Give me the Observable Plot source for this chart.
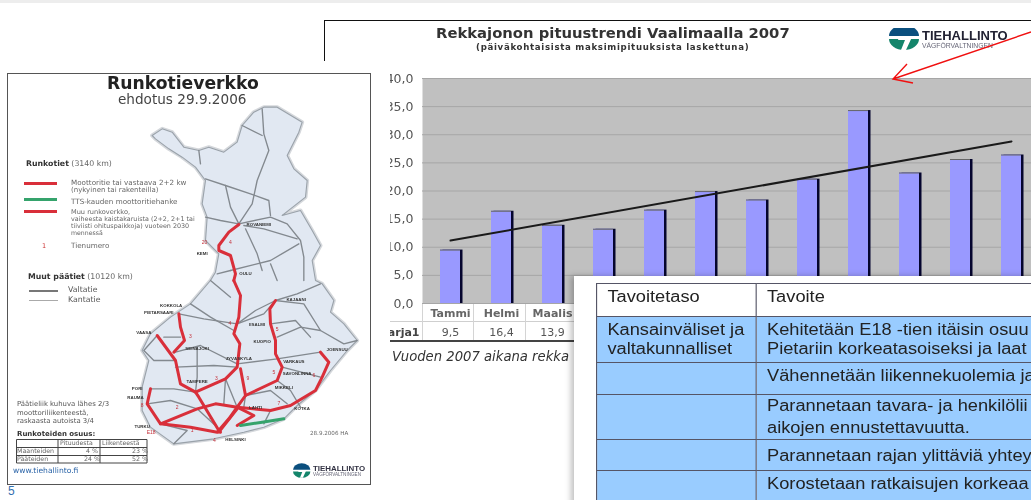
<!DOCTYPE html>
<html><head><meta charset="utf-8">
<script src="https://cdn.jsdelivr.net/npm/d3@7"></script>
<script src="https://cdn.jsdelivr.net/npm/@observablehq/plot@0.6"></script>
<style>
html,body{margin:0;padding:0;background:#fff;width:1031px;height:500px;overflow:hidden;font-family:"Liberation Sans",Arial,sans-serif}
.abs{position:absolute;white-space:nowrap}
#topband{position:absolute;left:0;top:0;width:1031px;height:3px;background:#ededed}
#chartbox{position:absolute;left:0;top:0;width:1031px;height:500px;clip-path:inset(0 0 0 390px);filter:blur(.45px)}
#chartbox svg,#mapbox svg{position:absolute;left:0;top:0;overflow:visible;background:none}
#head{position:absolute;left:324px;top:20px;width:707px;height:40px;border-top:1px solid #111;border-left:1px solid #111}
#mappanel{position:absolute;left:7px;top:73px;width:362px;height:410px;border:1px solid #555;background:#fff}
#mapbox{position:absolute;left:0;top:0;width:1031px;height:500px;filter:blur(.65px)}
#tablepanel{position:absolute;left:574px;top:276px;width:470px;height:240px;background:#fff;box-shadow:-3px 0 6px rgba(0,0,0,.25)}
table{position:absolute;left:596px;top:283px;border-collapse:collapse;font-size:16px;color:#222;table-layout:fixed;width:460px;filter:blur(.35px);transform:scaleX(1.14);transform-origin:0 0}
td{border:1px solid #556;padding:3px 9px;line-height:19px;vertical-align:top;white-space:nowrap;overflow:hidden}
td.b{background:#99ccff}
</style></head><body>
<div id="topband"></div>
<div id="head"></div>
<div id="chartbox"></div>
<div id="mappanel"></div>
<div id="mapbox"></div>
<div id="tablepanel"></div>
<table>
<colgroup><col style="width:140px"><col style="width:320px"></colgroup>
<tr style="height:33px"><td>Tavoitetaso</td><td>Tavoite</td></tr>
<tr style="height:46px"><td class="b">Kansainväliset ja<br>valtakunnalliset</td><td class="b">Kehitetään E18 -tien itäisin osuu<br>Pietariin korkeatasoiseksi ja laat</td></tr>
<tr style="height:32px"><td class="b"></td><td class="b">Vähennetään liikennekuolemia ja</td></tr>
<tr style="height:45px"><td class="b"></td><td class="b" style="padding-top:0;padding-bottom:0;line-height:22px">Parannetaan tavara- ja henkilölii<br>aikojen ennustettavuutta.</td></tr>
<tr style="height:31px"><td class="b"></td><td class="b" style="padding-top:6px;padding-bottom:0">Parannetaan rajan ylittäviä yhtey</td></tr>
<tr style="height:45px"><td class="b"></td><td class="b">Korostetaan ratkaisujen korkeaa</td></tr>
</table>
<script>
// ---- truck-queue chart data ----
const months = ["Tammi","Helmi","Maalis","Huhti","Touko","Kesä","Heinä","Elo","Syys","Loka","Marras","Joulu"];
const queue = [9.5,16.4,13.9,13.2,16.6,19.9,18.4,22.1,34.3,23.2,25.6,26.4];
const shownMonths = ["Tammi","Helmi","Maalis"];
const shownValues = ["9,5","16,4","13,9"];
const trendMonths = ["Tammi","Joulu"];
const trendValues = [11.2,28.8];
const yTicks = [0,5,10,15,20,25,30,35,40];
const rows = months.map((m,i)=>({m,v:queue[i]}));
const trend = trendMonths.map((m,i)=>({m,v:trendValues[i]}));
const fmt = d=>d.toFixed(1).replace(".",",");

const chart = Plot.plot({
  width:1031,height:500,marginLeft:422,marginRight:-8,marginTop:78,marginBottom:197,
  style:{background:"none",fontFamily:"DejaVu Sans"},
  x:{domain:months,paddingInner:.61,paddingOuter:.305,axis:null},
  y:{domain:[0,40],axis:null},
  marks:[
    Plot.frame({fill:"#c0c0c0"}),
    Plot.ruleY(yTicks,{stroke:"#a6a6a6",strokeWidth:1}),
    Plot.barY(rows,{x:"m",y:"v",fill:"#05052e",dx:2.5}),
    Plot.barY(rows,{x:"m",y:"v",fill:"#9999ff"}),
    Plot.tickY(rows,{x:"m",y:"v",stroke:"#666",strokeWidth:1}),
    Plot.line(trend,{x:"m",y:"v",stroke:"#1a1a1a",strokeWidth:2}),
    Plot.axisY({ticks:yTicks,tickFormat:fmt,tickSize:0,tickPadding:9,fontSize:12.5,fill:"#555",marginLeft:422,label:null,anchor:"left"}),
    Plot.text(shownMonths,{x:d=>d,y:()=>0,dy:10,text:d=>d,fontSize:11,fill:"#666",fontWeight:600}),
    Plot.text(shownMonths,{x:d=>d,y:()=>0,dy:29,text:(d,i)=>shownValues[i],fontSize:11,fill:"#555"}),
    Plot.text(["Sarja1"],{x:()=>"Tammi",y:()=>0,dy:29,dx:-31,text:d=>d,textAnchor:"end",fontSize:11,fill:"#444",fontWeight:600})
  ]
});
const cb = document.getElementById("chartbox");
cb.appendChild(chart);
const line=(x,y,w,h,c)=>`<div class="abs" style="left:${x}px;top:${y}px;width:${w}px;height:${h}px;background:${c}"></div>`;
const F="'Liberation Sans'", D="'DejaVu Sans'";
// text placed by its left edge and vertical centre
const txt=(x,yc,s,st)=>`<div class="abs" style="left:${x}px;top:${yc}px;transform:translateY(-50%);line-height:1;${st}">${s}</div>`;
cb.insertAdjacentHTML("beforeend",
  line(422,321,155,1,"#cfcfcf")+line(390,321,32,1,"#cfcfcf")+line(390,340,190,2,"#444")+
  line(422,304,1,36,"#d4d4d4")+line(473,304,1,36,"#d4d4d4")+line(525,304,1,36,"#d4d4d4")+
  txt(392,357,"Vuoden 2007 aikana rekka",`font:italic 13.2px ${D};line-height:1;color:#333`));

// ---- collage heading ----
function logo(x,y,s){return `<svg class="abs" style="left:${x}px;top:${y}px" width="${30*s}" height="${22*s}" viewBox="0 0 30 22">
<path d="M0 8A15 11 0 0 1 30 8Z" fill="#0b4f7e"/><path d="M0 11H30A15 11 0 0 1 0 11Z" fill="#14856b"/>
<path d="M10 9H23L17 22H12L16 12H9Z" fill="#fff"/></svg>`;}
document.body.insertAdjacentHTML("beforeend",
  txt(436,33,"Rekkajonon pituustrendi Vaalimaalla 2007",`font:bold 14.8px ${D};line-height:1;color:#333;filter:blur(.4px)`)+
  txt(476,47,"(päiväkohtaisista maksimipituuksista laskettuna)",`font:bold 8.6px ${D};line-height:1;letter-spacing:.7px;color:#333;filter:blur(.4px)`)+
  logo(889,28,1)+
  txt(922,35,"TIEHALLINTO",`font:bold 13px ${F};line-height:1;color:#223;filter:blur(.3px)`)+
  txt(922,46,"VÄGFÖRVALTNINGEN",`font:6.8px ${F};line-height:1;color:#667;filter:blur(.3px)`)+
  `<svg class="abs" style="left:0;top:0" width="1031" height="500"><path d="M1031 32L893 79M907 64L893 79L913 83" fill="none" stroke="#f01010" stroke-width="1.4"/></svg>`+
  txt(8,491,"5",`font:12px ${F};line-height:1;color:#336fb0`));

// ---- road map (in map units) ----
const north = pts=>pts.map(([x,y])=>[x+390,y+120]);
const south = pts=>pts.map(([x,y])=>[x+390,y+660]);
const outlineNorthA = [[65,105],[95,85],[125,95],[160,140],[205,150],[235,140],[280,155],[320,125],[335,75],[370,35],[400,20],[440,20],[515,65],[505,95],[470,165],[490,205],[530,240],[525,290],[480,325],[455,345],[510,330],[545,390],[570,435],[545,480],[555,540]];
const outlineSouth = [[575,10],[610,60],[600,95],[640,130],[680,180],[650,210],[600,270],[555,330],[500,375],[460,415],[400,440],[340,455],[250,475],[130,490],[60,440],[35,390],[35,320],[55,240],[35,210],[60,160],[120,110],[180,70],[240,0]];
const outlineNorthB = [[255,515],[265,460],[225,420],[230,350],[215,310],[225,240],[195,200],[155,170],[115,145],[75,115],[65,105]];
const outline = [...north(outlineNorthA),...south(outlineSouth),...north(outlineNorthB)];
const grayNorth = [
 [[395,25],[400,100],[415,150],[380,240],[365,310],[325,370]],
 [[335,75],[395,105]],
 [[225,235],[285,255],[360,280],[415,300],[420,345]],
 [[285,255],[300,320],[325,370]],
 [[205,150],[210,190]],
 [[325,370],[420,350],[470,370],[510,420],[520,470],[520,540]],
 [[340,375],[400,385],[500,415]],
 [[345,385],[380,460],[395,510]],
 [[300,510],[420,480],[505,430]],
 [[420,490],[440,540]],
 [[225,350],[270,360],[325,370]],
 [[260,520],[300,510]]
];
const graySouth = [
 [[145,100],[220,115],[320,130],[400,100],[435,60]],[[180,70],[240,110],[310,150]],[[240,0],[300,50]],
 [[435,60],[520,70],[570,150],[640,190],[680,180]],[[440,170],[510,140],[570,150]],
 [[80,165],[40,210],[70,240],[135,240]],[[135,215],[210,195],[320,250],[440,235],[570,215]],
 [[200,200],[200,290],[195,335]],[[135,260],[250,255],[320,260]],[[455,260],[570,290]],
 [[60,325],[130,325],[195,335]],[[345,345],[420,330],[470,370]],[[285,295],[320,380]],
 [[50,370],[120,360],[200,385],[260,440]],[[440,300],[480,330],[510,380]],[[435,60],[375,90],[320,130]],
 [[570,10],[500,40],[435,60]],[[420,130],[495,120],[540,170]],[[285,295],[280,370]],
 [[130,490],[170,450],[90,430]],[[100,170],[150,170]],[[345,345],[340,380]],[[420,390],[400,430]]
];
const redNorth = [[325,372],[295,395],[265,435],[265,450],[300,465],[315,520],[310,540]];
const redSouth = [
 [[310,0],[330,45],[325,110],[310,160],[328,190],[320,260],[285,295],[195,335],[150,310],[135,240],[80,165]],
 [[145,100],[150,140],[162,180],[130,215]],
 [[435,60],[418,85],[420,130],[435,180],[435,220],[455,260],[440,300],[345,345],[330,265]],
 [[570,215],[595,245],[575,290],[555,330],[480,375],[420,390],[320,380],[255,370],[200,385],[90,430],[50,370],[60,325]],
 [[195,335],[205,350],[265,450],[270,455]],
 [[90,430],[180,440],[260,455],[295,415],[320,380],[345,345]],
 [[265,455],[320,385]],[[320,435],[370,405],[320,380]]
];
const greenSouth = [[330,435],[395,425],[460,415]];
const cityNorthNames = ["ROVANIEMI","KEMI","OULU"];
const cityNorthX = [385,215,345];
const cityNorthY = [373,460,518];
const citySouthNames = ["KOKKOLA","PIETARSAARI","VAASA","SEINÄJOKI","JYVÄSKYLÄ","TAMPERE","IISALMI","KUOPIO","VARKAUS","SAVONLINNA","JOENSUU","MIKKELI","PORI","RAUMA","TURKU","LAHTI","KOTKA","HELSINKI","KAJAANI"];
const citySouthX = [122,85,40,200,325,200,380,395,490,500,620,460,20,15,35,375,515,315,497];
const citySouthY = [75,97,155,203,235,303,133,183,243,278,208,320,323,352,437,380,383,478,58];
const routeNames = ["4","5","5","9","6","3","3","2","7","1","8","1","E18","4"];
const routeX = [298,440,430,352,550,258,180,140,445,185,35,240,62,252];
const routeY = [128,147,275,295,285,293,168,380,370,450,375,410,455,480];
const routeNorthNames = ["20","4"];
const routeNorthX = [222,300];
const routeNorthY = [427,427];
const xy = {x:d=>d[0],y:d=>d[1]};
const road = (pts,stroke,w)=>Plot.line(pts,{...xy,stroke,strokeWidth:w,strokeLinejoin:"round"});
const labelAt = (names,xs,ys,dx0,dy0,o)=>Plot.text(names,{x:(d,i)=>xs[i]+dx0,y:(d,i)=>ys[i]+dy0,text:d=>d,...o});
const map = Plot.plot({
  width:375,height:440,margin:0,
  style:{background:"none",fontFamily:"Liberation Sans"},
  x:{domain:[0,1125],range:[0,375],axis:null},
  y:{domain:[0,1320],range:[0,440],axis:null},
  marks:[
    Plot.line(outline,{...xy,stroke:"#d5d8dc",strokeWidth:4,strokeLinejoin:"round"}),
    Plot.line(outline,{...xy,fill:"#e1e8f2",stroke:"#9aa2aa",strokeWidth:1.1,strokeLinejoin:"round"}),
    ...grayNorth.map(r=>road(north(r),"#83898f",1.35)),
    ...graySouth.map(r=>road(south(r),"#83898f",1.35)),
    road(north(redNorth),"#d92f3a",3),
    ...redSouth.map(r=>road(south(r),"#d92f3a",3)),
    road(south(greenSouth),"#35a36c",3),
    labelAt(cityNorthNames,cityNorthX,cityNorthY,390,120,{fontSize:4.4,fill:"#333",fontWeight:"bold"}),
    labelAt(citySouthNames,citySouthX,citySouthY,390,660,{fontSize:4.4,fill:"#333",fontWeight:"bold"}),
    labelAt(routeNames,routeX,routeY,390,660,{fontSize:5,fill:"#c5303a"}),
    labelAt(routeNorthNames,routeNorthX,routeNorthY,390,120,{fontSize:5,fill:"#c5303a"})
  ]
});
const mb = document.getElementById("mapbox");
const mw = document.createElement("div"); mw.className="abs"; mw.style.cssText="left:0;top:60px;width:375px;height:440px";
mw.appendChild(map); mb.appendChild(mw);
const t=(x,yc,s,size,color="#666",extra="")=>txt(x,yc,s,`font:${extra} ${size}px ${D};line-height:1;color:${color}`);
mb.insertAdjacentHTML("beforeend",
  t(107,84,"Runkotieverkko",17.2,"#222","bold")+
  t(118,100,"ehdotus 29.9.2006",13.6,"#444")+
  t(26,164,'<b style="color:#333">Runkotiet</b> (3140 km)',7.8)+
  line(24,182,33,3,"#d92f3a")+line(24,198,33,3,"#35a36c")+line(24,210,33,3,"#d92f3a")+
  t(71,183,"Moottoritie tai vastaava 2+2 kw",7.2)+t(71,190,"(nykyinen tai rakenteilla)",7)+
  t(71,202,"TTS-kauden moottoritiehanke",7.2)+t(71,212,"Muu runkoverkko,",6.6)+
  t(71,219,"vaiheesta kaistakaruista (2+2, 2+1 tai",6.4)+t(71,226,"tiiviisti ohituspaikkoja) vuoteen 2030",6.4)+t(71,232.6,"mennessä",6.2)+
  t(42,246,"1",6.5,"#c33")+t(71,246,"Tienumero",7.2)+
  t(28,277,'<b style="color:#333">Muut päätiet</b> (10120 km)',7.8)+
  line(29,290,29,1.5,"#777")+line(29,300,29,1,"#aaa")+
  t(68,290,"Valtatie",7.8,"#555")+t(68,300,"Kantatie",7.8,"#555")+
  t(17,404,"Päätieliik kuhuva lähes 2/3",6.9,"#555")+
  t(17,413,"moottoriliikenteestä,",6.9,"#555")+
  t(17,421,"raskaasta autoista 3/4",6.9,"#555")+
  t(17,434,"<b>Runkoteiden osuus:</b>",7,"#333")+
  `<svg class="abs" style="left:16px;top:439px" width="133" height="25"><path d="M.5 .5H131V24H.5ZM.5 8.5H131M.5 16.5H131M42 .5V24M84 .5V24" fill="none" stroke="#444"/></svg>`+
  t(17,451,"Maanteiden",6.3)+t(17,459,"Pääteiden",6.3)+t(60,443,"Pituudesta",6.2)+t(102,443,"Liikenteestä",6.2)+
  t(86,451,"4 %",6.3)+t(132,451,"23 %",6.3)+t(84,459,"24 %",6.3)+t(132,459,"52 %",6.3)+
  t(13,471,"www.tiehallinto.fi",7.6,"#2c65a8")+
  t(310,434,"28.9.2006 HA",5.6)+
  logo(293,465,.58)+
  txt(313,469,"TIEHALLINTO",`font:bold 7.9px ${F};line-height:1;color:#334`)+
  txt(313,475,"VÄGFÖRVALTNINGEN",`font:4.6px ${F};line-height:1;color:#667`));
</script>
</body></html>
